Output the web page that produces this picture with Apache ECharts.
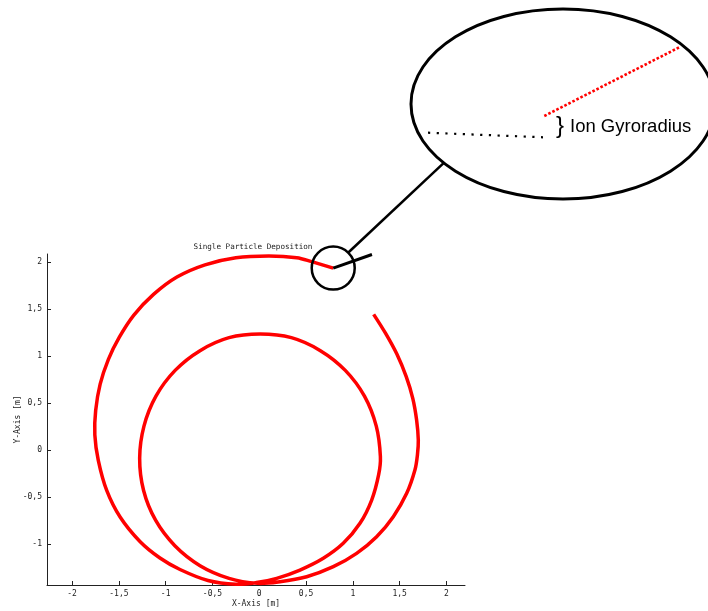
<!DOCTYPE html>
<html>
<head>
<meta charset="utf-8">
<script src="https://cdn.jsdelivr.net/npm/echarts@6/dist/echarts.min.js"></script>
<style>
  html, body { margin: 0; padding: 0; background: #fff; }
  #chart { width: 708px; height: 611px; }
</style>
</head>
<body>
<div id="chart"></div>
<script>
// Trajectory of a single gyrating ion, in metres, traced in order of travel.
// First pass down the right-hand side from the entry point.
const outerRight = [
  [1.222, 1.443], [1.35, 1.24], [1.47, 1.02], [1.57, 0.78], [1.64, 0.55],
  [1.681, 0.319], [1.699, 0.106], [1.69, -0.05], [1.663, -0.213], [1.575, -0.461],
  [1.432, -0.709], [1.254, -0.922], [1.040, -1.099], [0.791, -1.241],
  [0.506, -1.348], [0.221, -1.401], [-0.02, -1.418]
];
// Full inner loop, starting and ending near the bottom.
const innerLoop = [
  [-0.323, -1.365], [-0.633, -1.230], [-0.902, -1.018], [-1.108, -0.747],
  [-1.236, -0.431], [-1.278, -0.088], [-1.232, 0.254], [-1.104, 0.573],
  [-0.899, 0.847], [-0.633, 1.057], [-0.323, 1.195], [0.01, 1.234],
  [0.343, 1.195], [0.653, 1.057], [0.919, 0.847], [1.124, 0.573],
  [1.250, 0.254], [1.294, -0.07], [1.276, -0.26], [1.201, -0.532],
  [1.076, -0.780], [0.897, -0.993], [0.684, -1.152], [0.435, -1.277],
  [0.186, -1.365], [-0.03, -1.41]
];
// Last pass up the left-hand side and over the top to the deposition point.
const outerLeft = [
  [-0.25, -1.428], [-0.548, -1.388], [-0.847, -1.271], [-1.061, -1.149], [-1.275, -0.973],
  [-1.487, -0.713], [-1.63, -0.43], [-1.72, -0.11], [-1.757, 0.16], [-1.748, 0.42],
  [-1.70, 0.70], [-1.612, 0.965], [-1.495, 1.20], [-1.34, 1.435], [-1.13, 1.655],
  [-0.88, 1.84], [-0.58, 1.97], [-0.25, 2.045], [0.10, 2.064], [0.40, 2.046],
  [0.56, 2.004], [0.79, 1.935]
];
// Deposition point and the straight final segment leaving it.
const depositionPoint = [0.79, 1.935];
const depositionTail = [[0.79, 1.935], [1.204, 2.08]];

// Axis ranges and tick positions.
const xRange = [-2.268, 2.198];
const yRange = [-1.436, 2.085];
const xTicks = [-2, -1.5, -1, -0.5, 0, 0.5, 1, 1.5, 2];
const yTicks = [-1, -0.5, 0, 0.5, 1, 1.5, 2];

const trajectory = outerRight.concat(innerLoop, outerLeft);

const MONO = '"DejaVu Sans Mono", "Liberation Mono", monospace';
const SANS = '"Liberation Sans", Arial, sans-serif';
const INK = '#222';
const fmt = v => String(v).replace('.', ',');

const chart = echarts.init(document.getElementById('chart'), null, { renderer: 'canvas' });

function axisCommon(ticks, name, gap) {
  return {
    type: 'value',
    name: name,
    nameLocation: 'middle',
    nameGap: gap,
    nameMoveOverlap: false,
    nameTextStyle: { fontFamily: MONO, fontSize: 8, color: INK },
    axisLine: { show: true, onZero: false, lineStyle: { color: INK, width: 1 } },
    axisTick: { show: true, inside: true, length: 4, customValues: ticks, lineStyle: { color: INK } },
    axisLabel: { customValues: ticks, formatter: fmt, margin: 5, fontFamily: MONO, fontSize: 8, color: INK },
    splitLine: { show: false }
  };
}

const xAxis = Object.assign(axisCommon(xTicks, 'X-Axis [m]', 15), { min: xRange[0], max: xRange[1] });
const yAxis = Object.assign(axisCommon(yTicks, 'Y-Axis [m]', 25), { min: yRange[0], max: yRange[1] });

// The whole path is one smooth stroke through the data points, mapped by the axes.
function renderTrajectory(params, api) {
  if (params.dataIndex !== 0) return null;
  const pts = [];
  for (let i = 0; i < params.dataInsideLength; i++) {
    pts.push(api.coord([api.value(0, i), api.value(1, i)]));
  }
  return {
    type: 'polyline',
    shape: { points: pts, smooth: 0.35 },
    style: { stroke: '#ff0000', lineWidth: 3.5, fill: null },
    silent: true
  };
}

chart.setOption({
  animation: false,
  backgroundColor: '#fff',
  grid: { left: 47, top: 254, right: 243, bottom: 26, containLabel: false, outerBoundsMode: 'none' },
  xAxis: xAxis,
  yAxis: yAxis,
  series: [
    {
      type: 'custom',
      data: trajectory,
      encode: { x: 0, y: 1 },
      renderItem: renderTrajectory,
      clip: false,
      silent: true,
      z: 2
    },
    {
      type: 'line',
      data: depositionTail,
      showSymbol: false,
      clip: false,
      silent: true,
      lineStyle: { color: '#000', width: 3 },
      z: 3
    },
    {
      type: 'scatter',
      data: [depositionPoint],
      symbol: 'circle',
      symbolSize: 43,
      silent: true,
      itemStyle: { color: 'rgba(0,0,0,0)', borderColor: '#000', borderWidth: 2.5, opacity: 1 },
      z: 4
    }
  ]
});

// Magnified call-out: ellipse linked to the circled deposition point.
const c = chart.convertToPixel({ gridIndex: 0 }, depositionPoint);
const ang = -46 * Math.PI / 180;
const edge = [c[0] + 21 * Math.cos(ang), c[1] + 21 * Math.sin(ang)];
const ell = { cx: 563, cy: 104, rx: 152, ry: 95 };

chart.setOption({
  graphic: [
    {
      type: 'text', x: 253, y: 247,
      style: { text: 'Single Particle Deposition', font: '7.6px ' + MONO, fill: INK, align: 'center', verticalAlign: 'middle' }
    },
    {
      type: 'line',
      shape: { x1: edge[0], y1: edge[1], x2: 443.3, y2: 163.3 },
      style: { stroke: '#000', lineWidth: 2.5 }
    },
    {
      type: 'ellipse',
      shape: { cx: ell.cx, cy: ell.cy, rx: ell.rx, ry: ell.ry },
      style: { fill: 'none', stroke: '#000', lineWidth: 3 }
    },
    {
      type: 'line',
      shape: { x1: 544.3, y1: 116, x2: 679.3, y2: 47.3 },
      style: { stroke: '#ff0000', lineWidth: 2.6, lineDash: [2.6, 1.9] }
    },
    {
      type: 'line',
      shape: { x1: 428, y1: 132.7, x2: 543, y2: 137.3 },
      style: { stroke: '#000', lineWidth: 2.2, lineDash: [2.2, 6.5] }
    },
    {
      type: 'text', x: 560, y: 126,
      style: { text: '}', font: '24px ' + SANS, fill: '#000', align: 'center', verticalAlign: 'middle' }
    },
    {
      type: 'text', x: 570, y: 126.5,
      style: { text: 'Ion Gyroradius', font: '18.5px ' + SANS, fill: '#000', align: 'left', verticalAlign: 'middle' }
    }
  ]
});
</script>
</body>
</html>
